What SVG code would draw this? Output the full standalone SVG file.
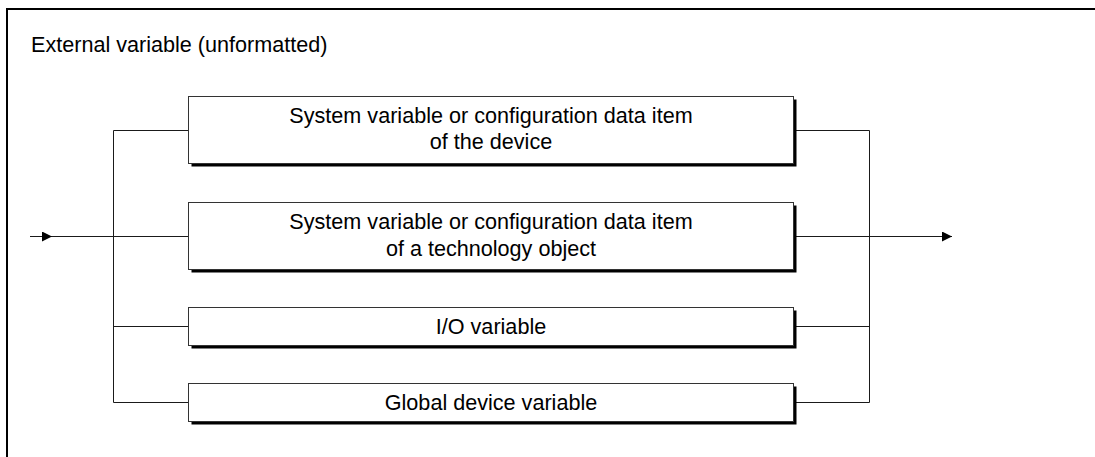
<svg xmlns="http://www.w3.org/2000/svg" width="1095" height="457" viewBox="0 0 1095 457">
  <style>
    .frame { fill: none; stroke: #000; stroke-width: 2; }
    .line { fill: none; stroke: #1a1a1a; stroke-width: 1; }
    .shadow { fill: #000; }
    .box { fill: #fff; stroke: #333; stroke-width: 1; }
    .lbl { font-family: "Liberation Sans", Arial, sans-serif; font-size: 21.6px; fill: #000; }
    .c { text-anchor: middle; }
  </style>
  <defs>
    <marker id="arr" markerWidth="11" markerHeight="11" refX="10" refY="5" orient="auto" markerUnits="userSpaceOnUse">
      <path d="M0,0 L10,5 L0,10 Z" fill="#000"/>
    </marker>
  </defs>

  <rect width="1095" height="457" fill="#fff"/>
  <path class="frame" d="M7,457 V9 H1095"/>
  <text class="lbl" x="31" y="52">External variable (unformatted)</text>

  <g id="connectors">
    <path class="line" d="M30,236.5 H52" marker-end="url(#arr)"/>
    <path class="line" d="M52,236.5 H188.5"/>
    <path class="line" d="M188.5,130.5 H113.5 V402.5 H188.5"/>
    <path class="line" d="M113.5,326.5 H188.5"/>
    <path class="line" d="M796,130.5 H869.5 V402.5 H796"/>
    <path class="line" d="M796,326.5 H869.5"/>
    <path class="line" d="M796,236.5 H952" marker-end="url(#arr)"/>
  </g>

  <g id="node1">
    <rect class="shadow" x="191.5" y="99.5" width="605" height="67"/>
    <rect class="box" x="188.5" y="96.5" width="605" height="67"/>
    <text class="lbl c" x="491" y="122.5">System variable or configuration data item</text>
    <text class="lbl c" x="491" y="149">of the device</text>
  </g>
  <g id="node2">
    <rect class="shadow" x="191.5" y="205.5" width="605" height="67"/>
    <rect class="box" x="188.5" y="202.5" width="605" height="67"/>
    <text class="lbl c" x="491" y="229">System variable or configuration data item</text>
    <text class="lbl c" x="491" y="255.5">of a technology object</text>
  </g>
  <g id="node3">
    <rect class="shadow" x="191.5" y="310.5" width="605" height="38"/>
    <rect class="box" x="188.5" y="307.5" width="605" height="38"/>
    <text class="lbl c" x="491" y="334">I/O variable</text>
  </g>
  <g id="node4">
    <rect class="shadow" x="191.5" y="386.5" width="605" height="38"/>
    <rect class="box" x="188.5" y="383.5" width="605" height="38"/>
    <text class="lbl c" x="491" y="410">Global device variable</text>
  </g>
</svg>
